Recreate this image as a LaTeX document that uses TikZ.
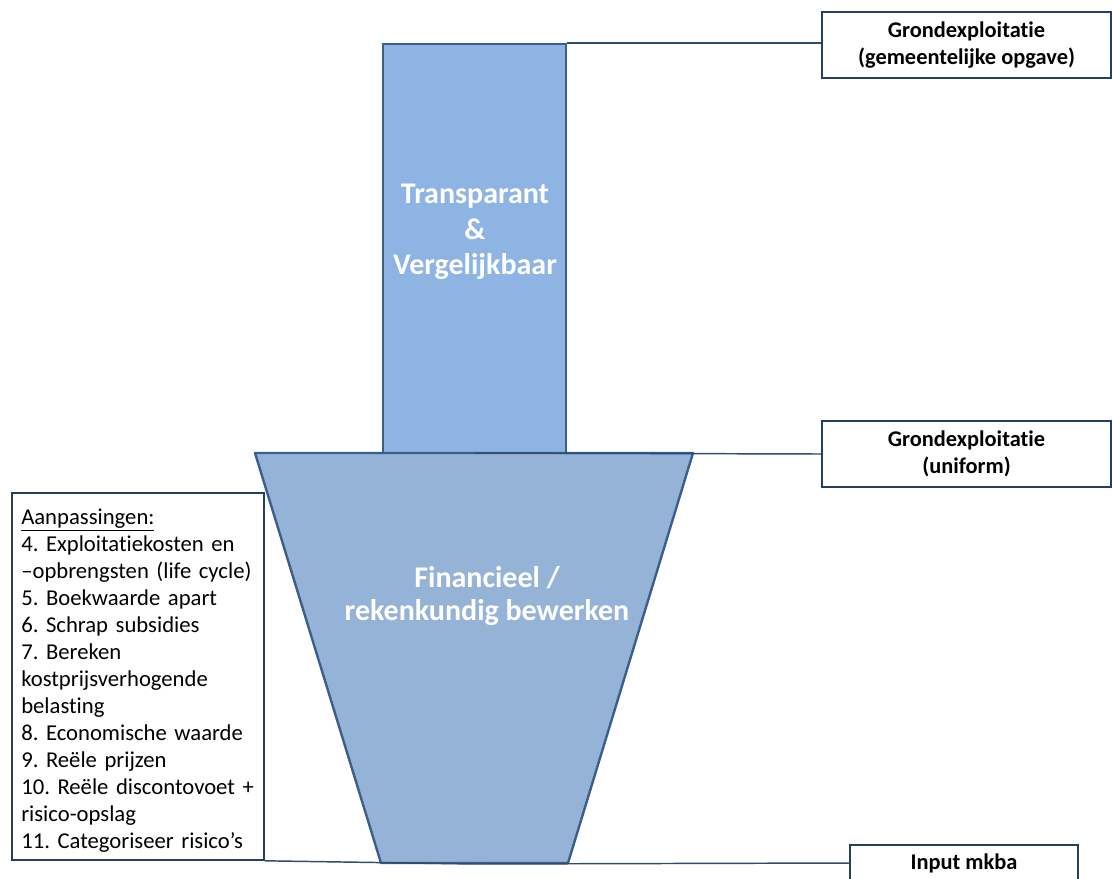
\documentclass[tikz,border=0pt]{standalone}
\usepackage{fontspec}
\setmainfont{Carlito}[RawFeature={-liga}]
\frenchspacing
\definecolor{barfill}{HTML}{8EB4E3}
\definecolor{funfill}{HTML}{95B3D7}
\definecolor{shapeline}{HTML}{3A5F8E}
\definecolor{boxline}{HTML}{243F60}
\definecolor{conline}{HTML}{2F4B6E}
\tikzset{
  labelbox/.style={draw=boxline, line width=1.5pt, fill=white, inner sep=0pt, align=center,
    font=\fontsize{16.8}{20.25}\selectfont\bfseries},
  bigtext/.style={text=white, align=center, font=\fontsize{22.5}{26.6}\selectfont\bfseries},
  conn/.style={draw=conline, line width=1.1pt},
}
\begin{document}
\begin{tikzpicture}[x=0.75pt,y=-0.75pt]
\useasboundingbox (0,0) rectangle (1112,878);
% bar
\node[draw=shapeline, fill=barfill, line width=1.6pt, minimum width=137.25pt, minimum height=307.5pt, inner sep=0pt] (bar) at (474.5,249) {};
\node[bigtext] (bartext) at (475,232) {Transparant\\\&\\Vergelijkbaar};
% funnel
\draw[draw=shapeline, fill=funfill, line width=1.8pt, line join=round] (255,453) -- (693,453) -- (568,863) -- (381,863) -- cycle;
\coordinate (funtop) at (474,453);
\coordinate (funbot) at (474,864);
\node[bigtext, font=\fontsize{22.5}{24.75}\selectfont\bfseries] (funtext) at (487,596) {Financieel /\\rekenkundig bewerken};
% right boxes
\node[labelbox, minimum width=216.75pt, minimum height=49.5pt] (box1) at (966.5,45) {Grondexploitatie\\(gemeentelijke opgave)};
\node[labelbox, minimum width=216.75pt, minimum height=49.5pt] (box2) at (966.5,454) {Grondexploitatie\\(uniform)};
\node[labelbox, minimum width=171pt, minimum height=27pt] (box3) at (964,863) {Input mkba};
% left list box
\node[draw=boxline, line width=1.2pt, fill=white, inner sep=0pt, minimum width=189pt, minimum height=275.25pt] (list) at (138,676.5) {};
\node[anchor=north west, align=left, inner sep=0pt, text width=186pt, font=\fontsize{17}{20.25}\selectfont] (listtext) at (21,509) {\underline{Aanpassingen:}\\
4. Exploitatiekosten en\\
–opbrengsten (life cycle)\\
5. Boekwaarde apart\\
6. Schrap subsidies\\
7. Bereken\\
kostprijsverhogende\\
belasting\\
8. Economische waarde\\
9. Reële prijzen\\
10. Reële discontovoet +\\
risico-opslag\\
11. Categoriseer risico’s};
% connectors
\draw[conn] (bar.north east) -- (bar.north east -| box1.west);
\draw[conn] (funtop) -- (box2.west);
\draw[conn] (funbot) -- (box3.west);
\draw[conn] (list.south east) -- (funbot);
\end{tikzpicture}
\end{document}
